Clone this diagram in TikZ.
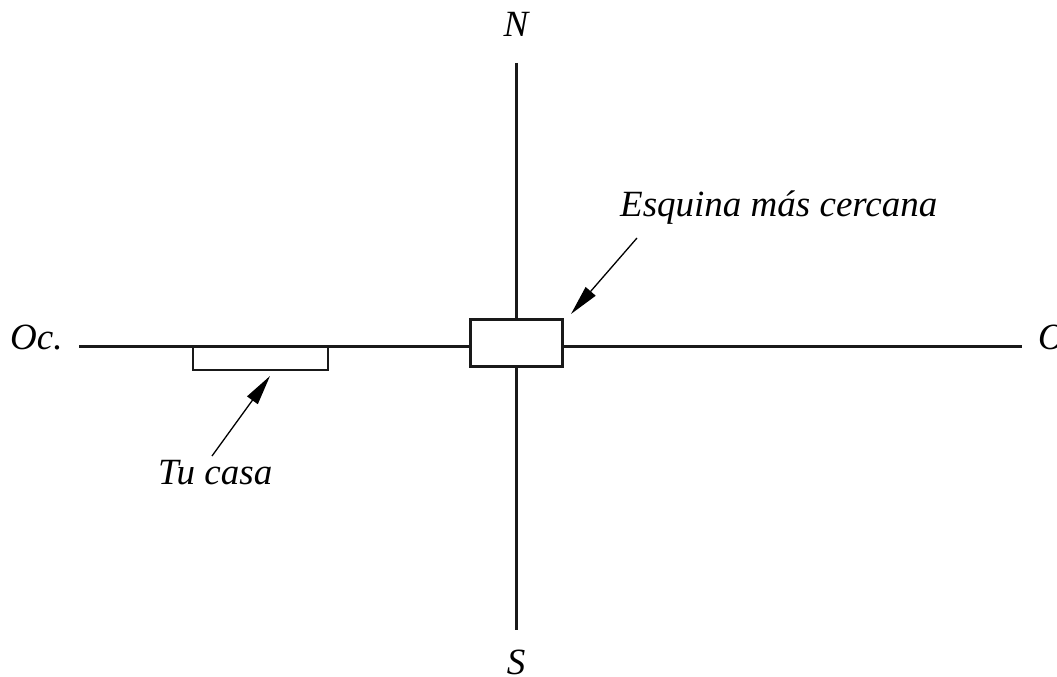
\documentclass[tikz,border=0pt]{standalone}
\usepackage{fontspec}
\setmainfont{Liberation Serif}
\usetikzlibrary{arrows.meta}
\begin{document}
\begin{tikzpicture}[x=1pt,y=-1pt,
  road/.style={line width=3pt,draw=black!90},
  block/.style={line width=3pt,draw=black!90,fill=white},
  lbl/.style={font=\itshape\fontsize{37}{37}\selectfont,inner sep=0pt},
  pointer/.style={line width=1.3pt,-{Triangle[length=30pt,width=13pt]}}]
\useasboundingbox (0,0) rectangle (1057,677);
\coordinate (ntop) at (516,63);
\coordinate (sbot) at (516,630);
\coordinate (wend) at (79,346);
\coordinate (eend) at (1022,346);
\draw[road] (ntop) -- (sbot);
\draw[road] (wend) -- (eend);
\node[block,minimum width=92pt,minimum height=47pt,inner sep=0pt] (corner) at (516,342.5) {};
\draw[line width=2.6pt,draw=black!90] (193,346) rectangle (328,370);
\node[inner sep=0pt,minimum width=135pt,minimum height=24pt] (house) at (260.5,358) {};
\node[lbl,anchor=base] (N) at (516,37) {N};
\node[lbl,anchor=base] (S) at (516,674) {S};
\node[lbl,anchor=base west] (W) at (10,349) {Oc.};
\node[lbl,anchor=base west] (E) at (1038,349) {Or.};
\node[lbl,anchor=base west] (esq) at (620,216) {Esquina más cercana};
\node[lbl,anchor=base west] (tu) at (158,484) {Tu casa};
\coordinate (esqtail) at (637,238);
\coordinate (esqtip) at (571,314);
\coordinate (tutail) at (212,456);
\coordinate (tutip) at (270,376);
\draw[pointer] (esqtail) -- (esqtip);
\draw[pointer] (tutail) -- (tutip);
\end{tikzpicture}
\end{document}
